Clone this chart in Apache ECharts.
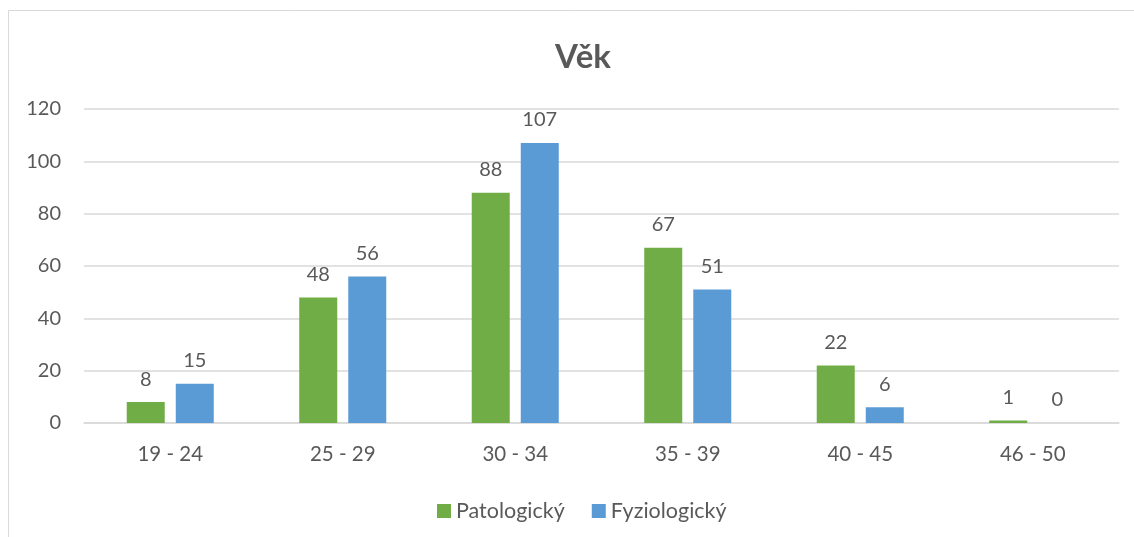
<!DOCTYPE html>
<html><head><meta charset="utf-8">
<script src="https://cdn.jsdelivr.net/npm/echarts@6/dist/echarts.min.js"></script>
<style>html,body{margin:0;padding:0;background:#fff}#c{width:1134px;height:537px}</style>
</head><body><div id="c"></div>
<script>
const categories = ['19 - 24','25 - 29','30 - 34','35 - 39','40 - 45','46 - 50'];
const patologicky = [8, 48, 88, 67, 22, 1];
const fyziologicky = [15, 56, 107, 51, 6, 0];
const seriesNames = ['Patologický','Fyziologický'];
const titleText = 'Věk';

const FONT = 'Lato, "Open Sans", sans-serif';
const TXT = '#595959';
const chart = echarts.init(document.getElementById('c'));
chart.setOption({
  animation: false,
  backgroundColor: '#fff',
  graphic: [{type:'rect', shape:{x:8.5,y:10.5,width:1200,height:600}, style:{fill:'none', stroke:'#d9d9d9', lineWidth:1}, z:-1}],
  title: {text:titleText, left:578, top:36, textAlign:'center', textStyle:{fontFamily:FONT, fontSize:33, fontWeight:'bold', color:TXT}},
  legend: {data:seriesNames, top:500, left:437, itemWidth:14, itemHeight:14, itemGap:27, icon:'rect',
    textStyle:{fontFamily:FONT, fontSize:21.5, color:TXT}, padding:0},
  grid: {left:84, right:15, top:109, bottom:114, containLabel:false},
  xAxis: {type:'category', data:categories,
    axisLine:{lineStyle:{color:'#d9d9d9', width:1.5}}, axisTick:{show:false},
    axisLabel:{fontFamily:FONT, fontSize:20.5, color:TXT, margin:21}},
  yAxis: {type:'value', min:0, max:120, interval:20,
    axisLine:{show:false}, axisTick:{show:false},
    splitLine:{lineStyle:{color:'#d9d9d9', width:1.5}},
    axisLabel:{fontFamily:FONT, fontSize:20, color:TXT, margin:23}},
  series: [
    {name:seriesNames[0], type:'bar', data:patologicky, barWidth:38, barGap:'29%', itemStyle:{color:'#70AD47'},
      label:{show:true, position:'top', distance:13, fontFamily:FONT, fontSize:20, color:TXT}},
    {name:seriesNames[1], type:'bar', data:fyziologicky, barWidth:38, itemStyle:{color:'#5B9BD5'},
      label:{show:true, position:'top', distance:13, fontFamily:FONT, fontSize:20, color:TXT}}
  ]
});
</script></body></html>
